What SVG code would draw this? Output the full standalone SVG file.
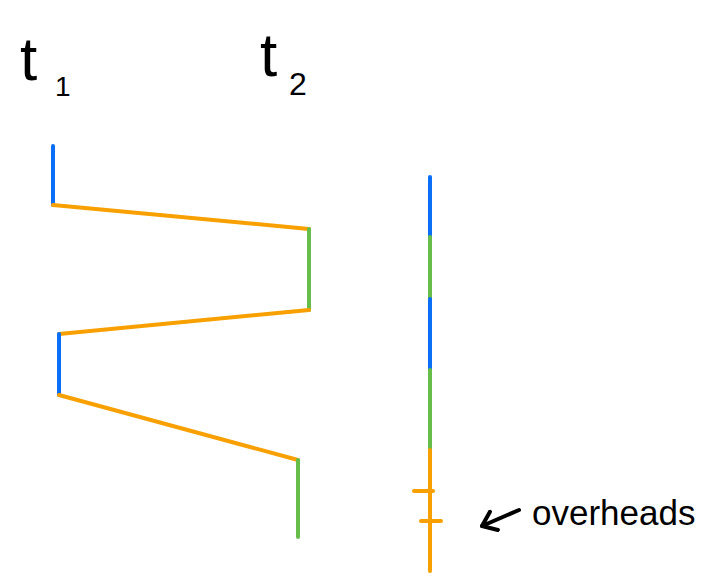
<svg xmlns="http://www.w3.org/2000/svg" width="720" height="578" viewBox="0 0 720 578">
<style>
.l{fill:none;stroke-width:4;stroke-linecap:round;stroke-linejoin:round}
.b{stroke:#0A6EF7}.o{stroke:#F8A000}.g{stroke:#67BD4A}
.t{font-family:"Liberation Sans","DejaVu Sans",sans-serif;fill:#000}
</style>
<defs>
<marker id="ah" viewBox="0 0 18 24" refX="16" refY="12" markerWidth="18" markerHeight="24" markerUnits="userSpaceOnUse" orient="auto">
<path d="M3,2 L16,12 L3,22" fill="none" stroke="#000" stroke-width="4" stroke-linecap="round" stroke-linejoin="round"/>
</marker>
</defs>
<rect width="720" height="578" fill="#fff"/>
<g id="label-t1"><text class="t" x="20" y="80" font-size="62">t</text><text class="t" x="55" y="96" font-size="28">1</text></g>
<g id="label-t2"><text class="t" x="260" y="76" font-size="62">t</text><text class="t" x="289" y="95" font-size="32">2</text></g>
<g id="timeline-left">
<line class="l b" x1="53" y1="146" x2="53" y2="205"/>
<line class="l o" x1="53" y1="205" x2="309" y2="229"/>
<line class="l g" x1="309" y1="229" x2="309" y2="310"/>
<line class="l o" x1="309" y1="310" x2="59" y2="334"/>
<line class="l b" x1="59" y1="334" x2="59" y2="395"/>
<line class="l o" x1="59" y1="395" x2="298" y2="460"/>
<line class="l g" x1="298" y1="460" x2="298" y2="537"/>
</g>
<g id="timeline-right">
<line class="l b" x1="430" y1="177" x2="430" y2="237"/>
<line class="l g" x1="430" y1="237" x2="430" y2="299"/>
<line class="l b" x1="430" y1="299" x2="430" y2="370"/>
<line class="l g" x1="430" y1="370" x2="430" y2="450"/>
<line class="l o" x1="430" y1="450" x2="430" y2="571"/>
<line class="l o" x1="414" y1="491" x2="433" y2="491"/>
<line class="l o" x1="421" y1="521" x2="441" y2="521"/>
</g>
<g id="connectors">
<path class="l" stroke="#000" d="M519,510 L482,526" marker-end="url(#ah)"/>
</g>
<g id="label-overheads"><text class="t" x="532" y="525" font-size="35">overheads</text></g>
</svg>
